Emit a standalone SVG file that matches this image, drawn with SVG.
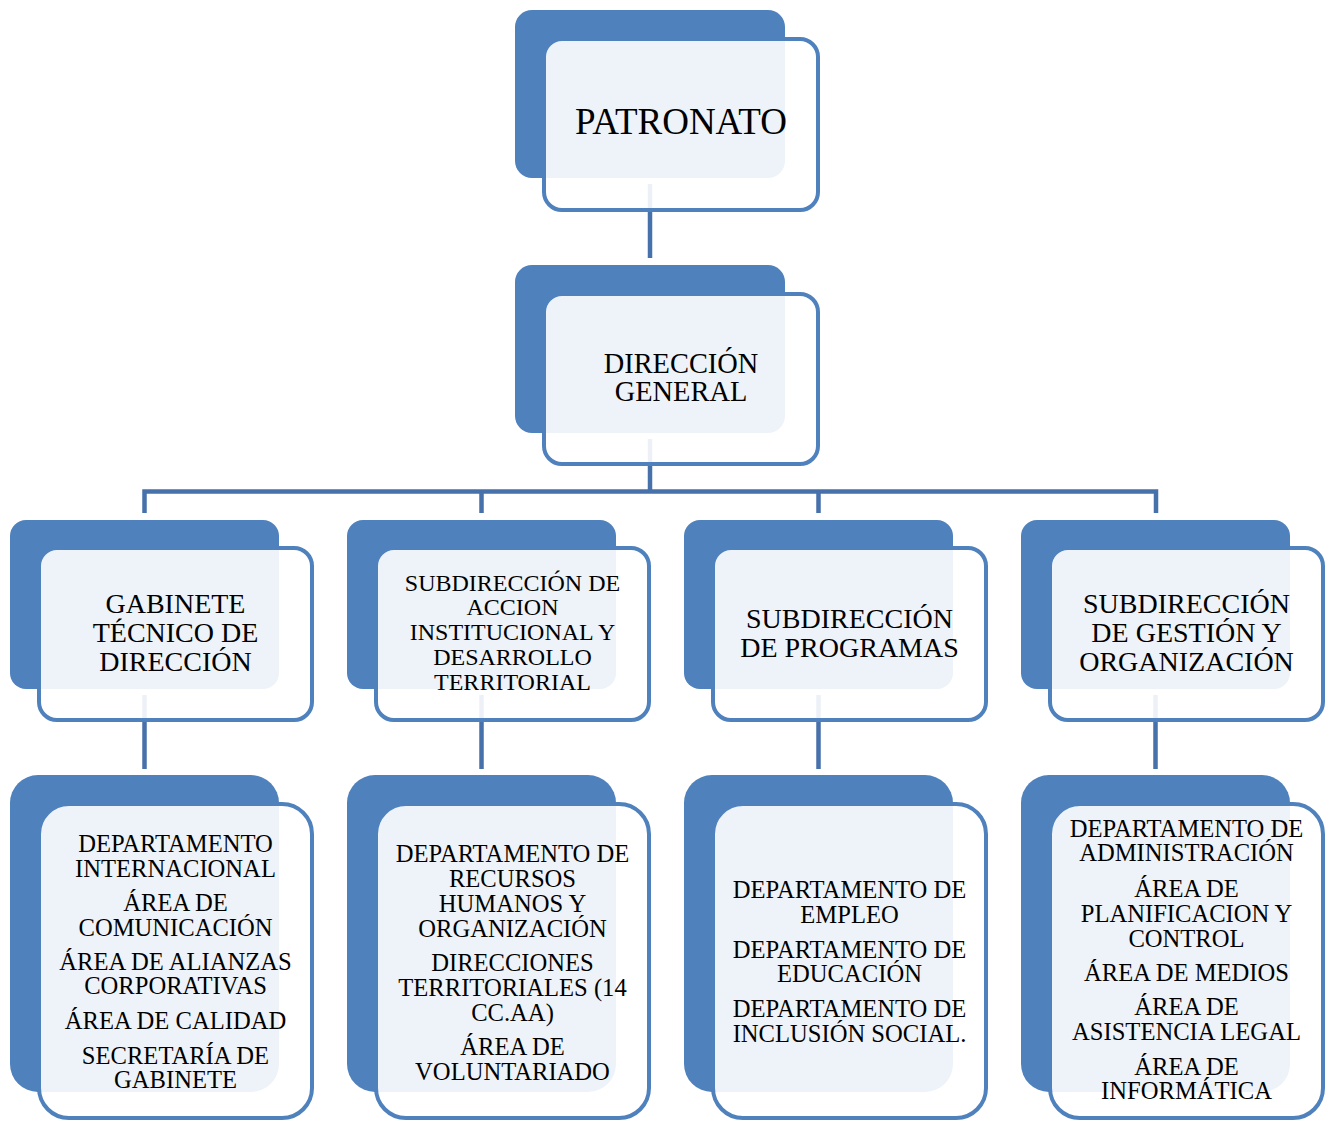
<svg xmlns="http://www.w3.org/2000/svg" width="1328" height="1122" viewBox="0 0 1328 1122">
<style>
.back{fill:#4F81BD}
.front{fill:#FFFFFF;fill-opacity:0.9;stroke:#4F81BD;stroke-width:4}
.conn{fill:none;stroke:#4671AA;stroke-width:4.5;stroke-linejoin:miter}
text{font-family:"Liberation Serif","Times New Roman",serif;fill:#000;text-anchor:middle}
.t0{font-size:37px}
.t1{font-size:28.4px}
.t2{font-size:28px}
.t2s{font-size:24px}
.t3{font-size:24.6px}
</style>
<g id="connectors">
<path class="conn" d="M650 184 V258"/>
<path class="conn" d="M650 439 V491.5"/>
<path class="conn" d="M144.5 513 V491.5 H1156 V513"/>
<path class="conn" d="M481.5 491.5 V513"/>
<path class="conn" d="M818.5 491.5 V513"/>
<path class="conn" d="M144.5 695 V769"/>
<path class="conn" d="M481.5 695 V769"/>
<path class="conn" d="M818.5 695 V769"/>
<path class="conn" d="M1155.5 695 V769"/>
</g>
<g id="patronato">
<rect class="back" x="515" y="10" width="270" height="168" rx="17"/>
<rect class="front" x="544" y="39" width="274" height="171" rx="18"/>
<text class="t0" x="681" y="134">PATRONATO</text>
</g>
<g id="direccion-general">
<rect class="back" x="515" y="265" width="270" height="168" rx="17"/>
<rect class="front" x="544" y="294" width="274" height="170" rx="18"/>
<text class="t1" x="681" y="373">DIRECCIÓN</text>
<text class="t1" x="681" y="401">GENERAL</text>
</g>
<g id="gabinete">
<rect class="back" x="10" y="520" width="269" height="169" rx="16"/>
<rect class="front" x="39" y="548" width="273" height="172" rx="18"/>
<text class="t2" x="175.5" y="613">GABINETE</text>
<text class="t2" x="175.5" y="642">TÉCNICO DE</text>
<text class="t2" x="175.5" y="671">DIRECCIÓN</text>
</g>
<g id="subdir-accion">
<rect class="back" x="347" y="520" width="269" height="169" rx="16"/>
<rect class="front" x="376" y="548" width="273" height="172" rx="18"/>
<text class="t2s" x="512.5" y="591">SUBDIRECCIÓN DE</text>
<text class="t2s" x="512.5" y="615">ACCION</text>
<text class="t2s" x="512.5" y="640">INSTITUCIONAL Y</text>
<text class="t2s" x="512.5" y="665">DESARROLLO</text>
<text class="t2s" x="512.5" y="690">TERRITORIAL</text>
</g>
<g id="subdir-programas">
<rect class="back" x="684" y="520" width="269" height="169" rx="16"/>
<rect class="front" x="713" y="548" width="273" height="172" rx="18"/>
<text class="t2" x="849.5" y="628">SUBDIRECCIÓN</text>
<text class="t2" x="849.5" y="657">DE PROGRAMAS</text>
</g>
<g id="subdir-gestion">
<rect class="back" x="1021" y="520" width="269" height="169" rx="16"/>
<rect class="front" x="1050" y="548" width="273" height="172" rx="18"/>
<text class="t2" x="1186.5" y="613">SUBDIRECCIÓN</text>
<text class="t2" x="1186.5" y="642">DE GESTIÓN Y</text>
<text class="t2" x="1186.5" y="671">ORGANIZACIÓN</text>
</g>
<g id="areas-gabinete">
<rect class="back" x="10" y="775" width="269" height="317" rx="28"/>
<rect class="front" x="39" y="804" width="273" height="314" rx="30"/>
<text class="t3" x="175.5" y="852">DEPARTAMENTO</text>
<text class="t3" x="175.5" y="877">INTERNACIONAL</text>
<text class="t3" x="175.5" y="911">ÁREA DE</text>
<text class="t3" x="175.5" y="936">COMUNICACIÓN</text>
<text class="t3" x="175.5" y="970">ÁREA DE ALIANZAS</text>
<text class="t3" x="175.5" y="994">CORPORATIVAS</text>
<text class="t3" x="175.5" y="1029">ÁREA DE CALIDAD</text>
<text class="t3" x="175.5" y="1064">SECRETARÍA DE</text>
<text class="t3" x="175.5" y="1088">GABINETE</text>
</g>
<g id="areas-accion">
<rect class="back" x="347" y="775" width="269" height="317" rx="28"/>
<rect class="front" x="376" y="804" width="273" height="314" rx="30"/>
<text class="t3" x="512.5" y="862">DEPARTAMENTO DE</text>
<text class="t3" x="512.5" y="887">RECURSOS</text>
<text class="t3" x="512.5" y="912">HUMANOS Y</text>
<text class="t3" x="512.5" y="937">ORGANIZACIÓN</text>
<text class="t3" x="512.5" y="971">DIRECCIONES</text>
<text class="t3" x="512.5" y="996">TERRITORIALES (14</text>
<text class="t3" x="512.5" y="1021">CC.AA)</text>
<text class="t3" x="512.5" y="1055">ÁREA DE</text>
<text class="t3" x="512.5" y="1080">VOLUNTARIADO</text>
</g>
<g id="areas-programas">
<rect class="back" x="684" y="775" width="269" height="317" rx="28"/>
<rect class="front" x="713" y="804" width="273" height="314" rx="30"/>
<text class="t3" x="849.5" y="898">DEPARTAMENTO DE</text>
<text class="t3" x="849.5" y="923">EMPLEO</text>
<text class="t3" x="849.5" y="958">DEPARTAMENTO DE</text>
<text class="t3" x="849.5" y="982">EDUCACIÓN</text>
<text class="t3" x="849.5" y="1017">DEPARTAMENTO DE</text>
<text class="t3" x="849.5" y="1042">INCLUSIÓN SOCIAL.</text>
</g>
<g id="areas-gestion">
<rect class="back" x="1021" y="775" width="269" height="317" rx="28"/>
<rect class="front" x="1050" y="804" width="273" height="314" rx="30"/>
<text class="t3" x="1186.5" y="837">DEPARTAMENTO DE</text>
<text class="t3" x="1186.5" y="861">ADMINISTRACIÓN</text>
<text class="t3" x="1186.5" y="897">ÁREA DE</text>
<text class="t3" x="1186.5" y="922">PLANIFICACION Y</text>
<text class="t3" x="1186.5" y="947">CONTROL</text>
<text class="t3" x="1186.5" y="981">ÁREA DE MEDIOS</text>
<text class="t3" x="1186.5" y="1015">ÁREA DE</text>
<text class="t3" x="1186.5" y="1040">ASISTENCIA LEGAL</text>
<text class="t3" x="1186.5" y="1075">ÁREA DE</text>
<text class="t3" x="1186.5" y="1099">INFORMÁTICA</text>
</g>
</svg>
